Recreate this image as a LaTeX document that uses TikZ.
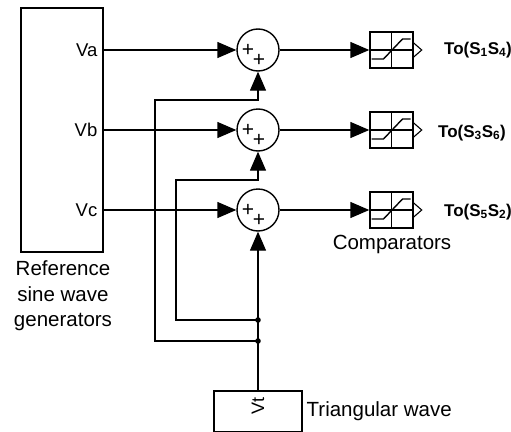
\documentclass[tikz,border=0pt]{standalone}
\usepackage{fontspec}
\setmainfont{Liberation Sans}
\usepackage{tikz}
\usetikzlibrary{shapes, arrows.meta, positioning}

\begin{document}
\begin{tikzpicture}[-,>={Triangle[length=19pt,width=16pt]},x=1pt,y=-1pt,
      line width=1.4pt,
      gen node/.style={draw,minimum width=82pt,minimum height=244pt,inner sep=0pt},
      sum node/.style={circle,draw,minimum size=42pt,inner sep=0pt,
        path picture={
          \node[font=\fontsize{21}{21}\selectfont,inner sep=0pt] at ([shift={(-10,0)}]path picture bounding box.center) {+};
          \node[font=\fontsize{21}{21}\selectfont,inner sep=0pt] at ([shift={(1,10)}]path picture bounding box.center) {+};
        }},
      cmp node/.style={draw,minimum width=43pt,minimum height=36pt,inner sep=0pt,
        path picture={
          \draw (path picture bounding box.north) -- (path picture bounding box.south);
          \draw (path picture bounding box.west) -- (path picture bounding box.east);
          \draw[shift={(path picture bounding box.center)}] (-20,9) -- (-8,9) -- (11,-11) -- (19,-11);
        }},
      tri node/.style={draw,minimum width=88pt,minimum height=41pt,inner sep=0pt},
      big text/.style={font=\fontsize{20.5}{25.5}\selectfont},
      v text/.style={font=\fontsize{18.5}{18.5}\selectfont,anchor=east,inner sep=0pt},
      out text/.style={font=\fontsize{17}{17}\selectfont\bfseries,inner sep=0pt}]

    \useasboundingbox (0,0) rectangle (511,431);

    % generators and signal names
    \node[gen node] (gen) at (62,130) {};
    \node[v text] (va) at (98,50) {Va};
    \node[v text] (vb) at (98,130) {Vb};
    \node[v text] (vc) at (98,210) {Vc};
    \node[big text,align=center] (genlabel) at (63,296) {Reference\\sine wave\\generators};

    % summing junctions and comparators
    \node[sum node] (s1) at (258,50) {};
    \node[sum node] (s2) at (258,130) {};
    \node[sum node] (s3) at (258,210) {};
    \node[cmp node] (c1) at (391.5,50) {};
    \node[cmp node] (c2) at (391.5,130) {};
    \node[cmp node] (c3) at (391.5,210) {};
    \node[big text] (cmplabel) at (392,244) {Comparators};

    \node[out text] (o1) at (478,50) {To(S\textsubscript{1}S\textsubscript{4})};
    \node[out text] (o2) at (472,133) {To(S\textsubscript{3}S\textsubscript{6})};
    \node[out text] (o3) at (478,212) {To(S\textsubscript{5}S\textsubscript{2})};

    % triangular carrier
    \node[tri node] (tri) at (258,411.5) {};
    \node[font=\fontsize{18}{18}\selectfont,rotate=90,inner sep=0pt] (vt) at (258,406) {Vt};
    \node[big text,anchor=west,inner sep=0pt] (trilabel) at (306,411) {Triangular wave};
    \coordinate (j1) at (258,341);
    \coordinate (j2) at (258,320);

    \draw[->] (gen.east |- va) -- (s1);
    \draw[->] (gen.east |- vb) -- (s2);
    \draw[->] (gen.east |- vc) -- (s3);
    \draw[->] (s1) -- (c1);
    \draw[->] (s2) -- (c2);
    \draw[->] (s3) -- (c3);
    \foreach \c in {c1,c2,c3}
        \draw[line width=1.1pt] ([yshift=7pt]\c.east) -- ++(8,7) -- ++(-8,7);

    \draw[->] (tri) -- (s3);
    \draw[->] (j1) -| (155,100) -| (s1);
    \draw[->] (j2) -| (176,180) -| (s2);
    \fill (j1) circle (2.8);
    \fill (j2) circle (2.8);
\end{tikzpicture}
\end{document}
